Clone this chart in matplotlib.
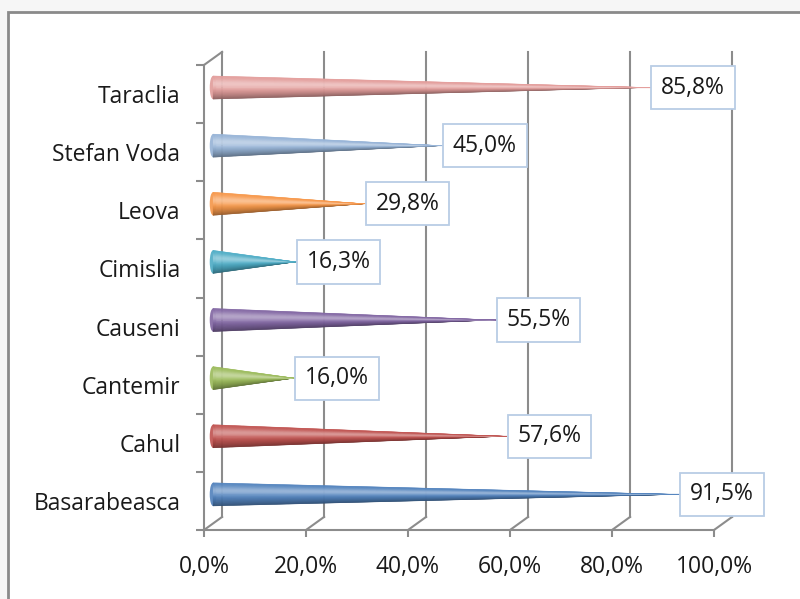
import numpy as np
import matplotlib.pyplot as plt
import matplotlib.colors as mcolors
from matplotlib.patches import Rectangle, Ellipse

# data (bottom to top)
districts = ["Basarabeasca", "Cahul", "Cantemir", "Causeni",
             "Cimislia", "Leova", "Stefan Voda", "Taraclia"]
values = [91.5, 57.6, 16.0, 55.5, 16.3, 29.8, 45.0, 85.8]
colors = ["#4F81BD", "#C0504D", "#9BBB59", "#8064A2",
          "#4BACC6", "#F79646", "#95B3D7", "#E39C9A"]
xticks = [0, 20, 40, 60, 80, 100]

plt.rcParams['font.family'] = ['Open Sans', 'DejaVu Sans']
fs = 16.5
grid_c = "#8c8c8c"

# fake 3d depth, in data units
dx, dy = 3.55, 0.225
r = 0.2  # cone half height


def shade(c, t):
    # t = -1 bottom ... 1 top
    rgb = np.array(mcolors.to_rgb(c))
    k = np.exp(-((t - 0.35) / 0.4) ** 2) * 0.4
    d = max(0.0, -t) ** 1.5 * 0.4
    out = rgb + (1 - rgb) * k
    out = out * (1 - d)
    return np.clip(out, 0, 1)


fig = plt.figure(figsize=(8, 5.99), dpi=100)
fig.patch.set_facecolor("#f6f6f6")
fig.patches.append(Rectangle((8 / 800, -0.05), 1.0, 1 - 12 / 599 + 0.05,
                             transform=fig.transFigure, facecolor="white",
                             edgecolor="#8a8a8a", lw=2, zorder=-1))

ax = fig.add_axes([204 / 800, 69 / 599, 510 / 800, 465 / 599])
ax.set_facecolor("none")
ax.set_xlim(0, 100)
ax.set_ylim(-0.5, 7.5)

for s in ["top", "right"]:
    ax.spines[s].set_visible(False)
for s in ["left", "bottom"]:
    ax.spines[s].set_color(grid_c)
    ax.spines[s].set_linewidth(1.5)

# walls: back gridlines + diagonals
for xv in xticks:
    ax.plot([xv, xv + dx], [-0.5, -0.5 + dy], color=grid_c, lw=1.5,
            clip_on=False, zorder=1)
    ax.plot([xv + dx, xv + dx], [-0.5 + dy, 7.5 + dy], color=grid_c, lw=1.5,
            clip_on=False, zorder=1)
ax.plot([0, dx], [7.5, 7.5 + dy], color=grid_c, lw=1.5, clip_on=False, zorder=1)

# cones
ts = np.linspace(-1, 1, 61)
for i, (v, c) in enumerate(zip(values, colors)):
    yc = i + dy / 2
    x0 = dx / 2
    xt = v + dx / 2
    ax.add_patch(Ellipse((x0, yc), 1.3, 2 * r, facecolor=shade(c, -0.1),
                         edgecolor="none", zorder=3, clip_on=False))
    for a, b in zip(ts[:-1], ts[1:]):
        col = shade(c, (a + b) / 2)
        ax.fill([x0, x0, xt], [yc + r * a, yc + r * b, yc],
                facecolor=col, edgecolor=col, lw=0.2, zorder=4, clip_on=False)
    ax.annotate(f"{v:.1f}%".replace(".", ","), (xt, yc),
                xytext=(7.5, 0), textcoords="offset points",
                ha="left", va="center", fontsize=fs, color="#1a1a1a",
                bbox=dict(boxstyle="square,pad=0.42", fc="white",
                          ec="#B9CDE5", lw=1.3),
                zorder=6, annotation_clip=False)

ax.set_xticks(xticks)
ax.set_xticklabels([f"{x:.1f}%".replace(".", ",") for x in xticks],
                   fontsize=fs, color="#1a1a1a")
ax.tick_params(axis="x", length=5, width=1.5, color=grid_c, pad=13)

ax.set_yticks(range(len(districts)))
ax.set_yticklabels(districts, fontsize=fs, color="#1a1a1a")
ax.set_yticks(np.arange(-0.5, 8, 1), minor=True)
ax.tick_params(axis="y", which="major", length=0, pad=17)
ax.tick_params(axis="y", which="minor", length=6, width=1.5, color=grid_c)

fig.savefig("out.png", dpi=100, facecolor=fig.get_facecolor())
